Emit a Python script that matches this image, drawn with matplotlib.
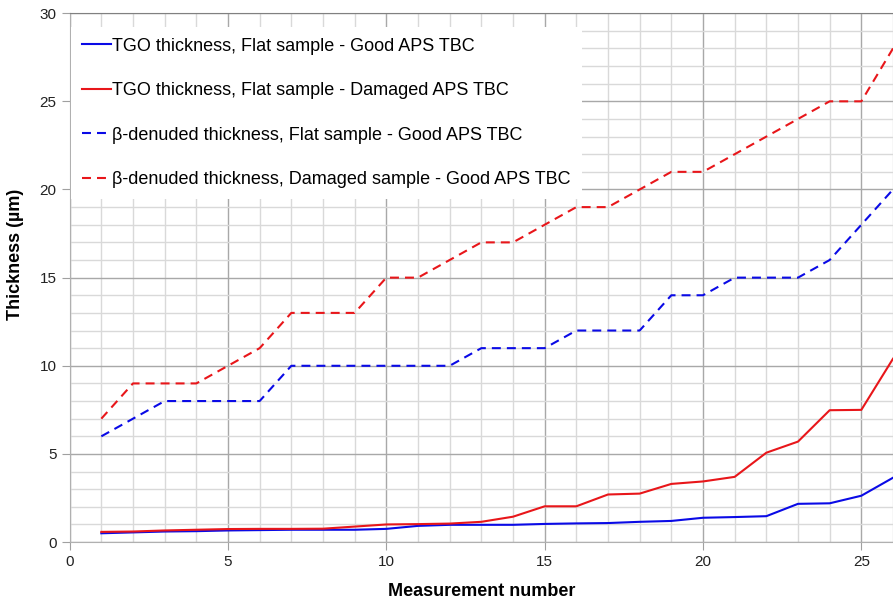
import matplotlib.pyplot as plt
from matplotlib.ticker import MultipleLocator

plt.rcParams['font.family'] = ['Liberation Sans', 'DejaVu Sans']

# measurement numbers
meas = list(range(1, 27))

# TGO thickness (um), flat sample
tgo_good = [0.50, 0.55, 0.60, 0.62, 0.66, 0.68, 0.70, 0.70, 0.70, 0.75, 0.92, 0.98, 0.98,
            0.98, 1.03, 1.06, 1.08, 1.15, 1.20, 1.38, 1.42, 1.47, 2.17, 2.20, 2.63, 3.65]
tgo_damaged = [0.58, 0.60, 0.66, 0.70, 0.74, 0.75, 0.75, 0.76, 0.88, 1.00, 1.02, 1.05, 1.15,
               1.44, 2.03, 2.03, 2.70, 2.75, 3.30, 3.44, 3.70, 5.07, 5.70, 7.48, 7.50, 10.4]

# beta-denuded thickness (um)
beta_flat = [6, 7, 8, 8, 8, 8, 10, 10, 10, 10, 10, 10, 11,
             11, 11, 12, 12, 12, 14, 14, 15, 15, 15, 16, 18, 20]
beta_damaged = [7, 9, 9, 9, 10, 11, 13, 13, 13, 15, 15, 16, 17,
                17, 18, 19, 19, 20, 21, 21, 22, 23, 24, 25, 25, 28]

labels = ['TGO thickness, Flat sample - Good APS TBC',
          'TGO thickness, Flat sample - Damaged APS TBC',
          'β-denuded thickness, Flat sample - Good APS TBC',
          'β-denuded thickness, Damaged sample - Good APS TBC']

fig = plt.figure(figsize=(8.93, 5.99), dpi=100)
ax = fig.add_axes([0.078, 0.095, 0.922, 0.883])

dash = (4.3, 2.9)
ax.plot(meas, tgo_good, color='#0a0ae6', lw=1.5, label=labels[0])
ax.plot(meas, tgo_damaged, color='#e8161a', lw=1.5, label=labels[1])
ax.plot(meas, beta_flat, color='#0a0ae6', lw=1.5, dashes=dash, label=labels[2])
ax.plot(meas, beta_damaged, color='#e8161a', lw=1.5, dashes=dash, label=labels[3])

ax.set_xlim(0, 26)
ax.set_ylim(0, 30)
ax.xaxis.set_major_locator(MultipleLocator(5))
ax.xaxis.set_minor_locator(MultipleLocator(1))
ax.yaxis.set_major_locator(MultipleLocator(5))
ax.yaxis.set_minor_locator(MultipleLocator(1))
ax.grid(which='major', color='#a8a8a8', lw=1.0)
ax.grid(which='minor', color='#d9d9d9', lw=1.0)
ax.set_axisbelow(True)

for side in ['left', 'bottom']:
    ax.spines[side].set_color('#b0b0b0')
ax.spines['top'].set_color('#808080')
ax.spines['right'].set_visible(False)
ax.tick_params(which='major', length=6, color='#a0a0a0', labelsize=11, labelcolor='#222222')
ax.tick_params(which='minor', length=0)

ax.set_xlabel('Measurement number', fontsize=13, fontweight='bold', labelpad=10)
ax.set_ylabel('Thickness (µm)', fontsize=13, fontweight='bold')
ax.yaxis.set_label_coords(-0.055, 0.544)

leg = ax.legend(loc='upper left', bbox_to_anchor=(0.0015, 0.974), fontsize=13, frameon=True,
                framealpha=1, edgecolor='none', fancybox=False, handlelength=1.6,
                handletextpad=0.1, labelspacing=1.52, borderpad=0.6, borderaxespad=0)
leg.get_frame().set_facecolor('white')

fig.savefig('out.png', dpi=100)
